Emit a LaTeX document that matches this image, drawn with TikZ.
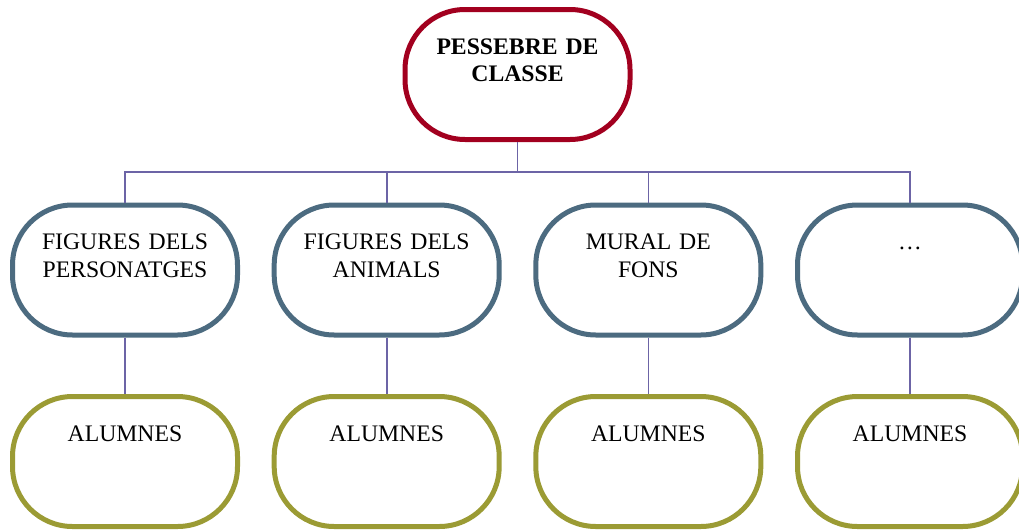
\documentclass[tikz,border=0pt]{standalone}
\usepackage{fontspec}
\setmainfont{Liberation Serif}
\usepackage{tikz}
\definecolor{boxred}{HTML}{A2001F}
\definecolor{boxblue}{HTML}{4C6B80}
\definecolor{boxolive}{HTML}{9B9B34}
\definecolor{linkpurple}{HTML}{6C64A6}
\tikzset{
  box/.style={rectangle,draw,fill=white,line width=5pt,rounded corners=60pt,
    minimum width=225pt,minimum height=130pt,inner sep=0pt,
    text width=210pt,align=center,text height=16pt,text depth=57pt,
    font=\fontsize{23.7}{27.5}\selectfont},
  link/.style={draw=linkpurple,line width=1.6pt}
}

\begin{document}
\begin{tikzpicture}[x=1pt,y=-1pt]
  \clip (0,0) rectangle (1019,530);
  \node at (517.5,74.5) (top) [box,draw=boxred] {\textbf{PESSEBRE DE}\\\textbf{CLASSE}};
  \node at (125,270) (f1) [box,draw=boxblue] {FIGURES DELS\\PERSONATGES};
  \node at (386.7,270) (f2) [box,draw=boxblue] {FIGURES DELS\\ANIMALS};
  \node at (648.3,270) (f3) [box,draw=boxblue] {MURAL DE\\FONS};
  \node at (910,270) (f4) [box,draw=boxblue] {…};
  \node at (125,461.5) (a1) [box,draw=boxolive] {ALUMNES};
  \node at (386.7,461.5) (a2) [box,draw=boxolive] {ALUMNES};
  \node at (648.3,461.5) (a3) [box,draw=boxolive] {ALUMNES};
  \node at (910,461.5) (a4) [box,draw=boxolive] {ALUMNES};
  \coordinate (bus) at (517.5,172);
  \draw[link] (top.south) -- (bus);
  \draw[link] (bus) -| (f1.north);
  \draw[link] (bus) -| (f2.north);
  \draw[link] (bus) -| (f3.north);
  \draw[link] (bus) -| (f4.north);
  \path[link]
        (f1) edge (a1)
        (f2) edge (a2)
        (f3) edge (a3)
        (f4) edge (a4)
        ;
\end{tikzpicture}
\end{document}
